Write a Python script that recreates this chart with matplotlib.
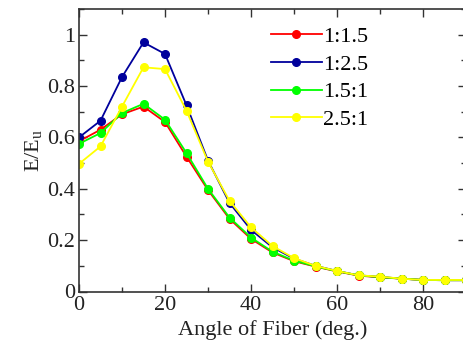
import numpy as np
import matplotlib
matplotlib.use("Agg")
import matplotlib.pyplot as plt
from matplotlib.ticker import MultipleLocator

plt.rcParams['font.family'] = ['Liberation Serif', 'DejaVu Serif']
plt.rcParams['mathtext.fontset'] = 'custom'
plt.rcParams['mathtext.rm'] = 'Liberation Serif'
plt.rcParams['mathtext.it'] = 'Liberation Serif:italic'

# Data
angle = [0, 5, 10, 15, 20, 25, 30, 35, 40, 45, 50, 55, 60, 65, 70, 75, 80, 85, 90]
r_1_15 = [0.585, 0.63, 0.69, 0.72, 0.66, 0.525, 0.395, 0.283, 0.205, 0.152, 0.118, 0.097, 0.078, 0.062, 0.055, 0.05, 0.045, 0.044, 0.044]
r_1_25 = [0.60, 0.665, 0.835, 0.97, 0.925, 0.725, 0.51, 0.345, 0.24, 0.172, 0.128, 0.1, 0.08, 0.063, 0.057, 0.05, 0.045, 0.044, 0.044]
r_15_1 = [0.575, 0.617, 0.695, 0.731, 0.669, 0.539, 0.40, 0.288, 0.21, 0.155, 0.12, 0.098, 0.079, 0.063, 0.056, 0.05, 0.045, 0.044, 0.044]
r_25_1 = [0.497, 0.565, 0.72, 0.873, 0.866, 0.704, 0.506, 0.353, 0.25, 0.177, 0.13, 0.10, 0.08, 0.063, 0.058, 0.05, 0.045, 0.045, 0.045]

labels = ['1:1.5', '1:2.5', '1.5:1', '2.5:1']
colors = ['#ff0000', '#00009c', '#00ff00', '#ffff00']
series = [r_1_15, r_1_25, r_15_1, r_25_1]

fig = plt.figure(figsize=(4.63, 3.47), dpi=100)
ax = fig.add_axes([79 / 463, 55.5 / 347, 387 / 463, 282.5 / 347])

for y, c, lab in zip(series, colors, labels):
    ax.plot(angle, y, color=c, marker='o', markersize=5.5, linewidth=1.3, label=lab)

ax.set_xlim(0, 90)
ax.set_ylim(0, 1.1)
ax.xaxis.set_major_locator(MultipleLocator(20))
ax.xaxis.set_minor_locator(MultipleLocator(10))
ax.yaxis.set_major_locator(MultipleLocator(0.2))
ax.yaxis.set_minor_locator(MultipleLocator(0.1))
ax.set_yticks([0, 0.2, 0.4, 0.6, 0.8, 1])
ax.set_yticklabels(['0', '0.2', '0.4', '0.6', '0.8', '1'])
ax.tick_params(which='both', direction='in', top=True, right=True, labelsize=16, width=1, colors='#333333', labelcolor='#222222')
ax.tick_params(which='major', length=6, pad=3)
ax.tick_params(which='minor', length=3.5)
for s in ax.spines.values():
    s.set_color('#333333')
    s.set_linewidth(1.2)

ax.set_xlabel('Angle of Fiber (deg.)', fontsize=16, color='#222222', labelpad=4)
ax.set_ylabel(r'E/E$_\mathrm{u}$', fontsize=16, color='#222222', labelpad=2)

ax.legend(loc='upper left', bbox_to_anchor=(0.461, 0.985), frameon=False, fontsize=16,
          handlelength=2.3, handletextpad=0.05, labelspacing=0.32, borderaxespad=0.2)

fig.savefig('out.png', dpi=100)
